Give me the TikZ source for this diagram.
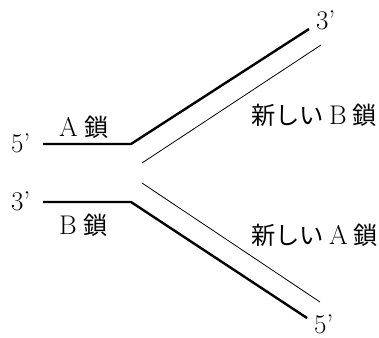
\documentclass[tikz,border=0pt]{standalone}
\usepackage{fontspec}
\newfontfamily\cjk{Noto Sans CJK JP}[Scale=0.9]
\begin{document}
\begin{tikzpicture}[x=1pt,y=-1pt,
  old/.style={line width=2.4pt},
  new/.style={line width=0.8pt},
  lbl/.style={inner sep=0pt,anchor=base west,font=\fontsize{27}{27}\selectfont}]
\useasboundingbox (0,0) rectangle (379,337);
% A strand
\coordinate (a1) at (43,144);
\coordinate (a2) at (131,144);
\coordinate (a3) at (309,29);
\draw[old] (a1) -- (a2) -- (a3);
% new B strand
\coordinate (nb1) at (142,163);
\coordinate (nb2) at (321,45);
\draw[new] (nb1) -- (nb2);
% B strand
\coordinate (b1) at (43,202);
\coordinate (b2) at (131,202);
\coordinate (b3) at (307,318);
\draw[old] (b1) -- (b2) -- (b3);
% new A strand
\coordinate (na1) at (142,183);
\coordinate (na2) at (320,302);
\draw[new] (na1) -- (na2);
% labels
\node[lbl] (l5a) at (11,152) {5’};
\node[lbl] (l3a) at (316,30) {3’};
\node[lbl] (lA) at (59,136) {A\hspace{7pt}{\cjk 鎖}};
\node[lbl] (lnB) at (251,124) {{\cjk 新しい}\hspace{5pt}B\hspace{6pt}{\cjk 鎖}};
\node[lbl] (l3b) at (11,210) {3’};
\node[lbl] (lB) at (59,234) {B\hspace{7pt}{\cjk 鎖}};
\node[lbl] (lnA) at (251,244) {{\cjk 新しい}\hspace{5pt}A\hspace{6pt}{\cjk 鎖}};
\node[lbl] (l5b) at (314,333) {5’};
\end{tikzpicture}
\end{document}
